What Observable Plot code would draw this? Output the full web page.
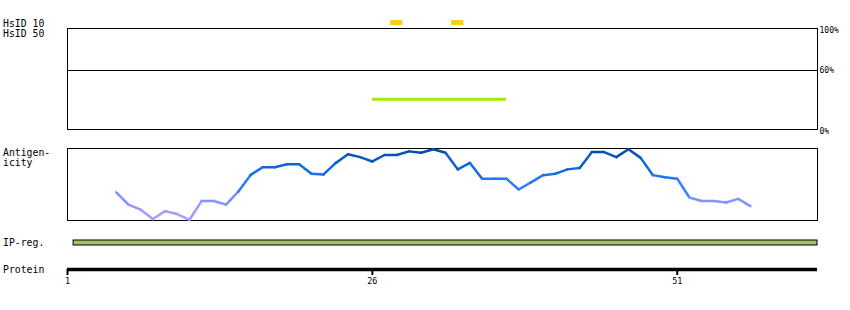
<!DOCTYPE html>
<html><head><meta charset="utf-8">
<script src="https://cdn.jsdelivr.net/npm/d3@7"></script>
<script src="https://cdn.jsdelivr.net/npm/@observablehq/plot@0.6"></script>
<style>
body{margin:0;background:#fff;}
#chart{position:relative;width:850px;height:310px;overflow:hidden;font-family:"DejaVu Sans Mono",monospace;background:#fff;}
#chart svg{position:absolute;left:0;overflow:visible;}
.lbl{position:absolute;left:3px;font-size:9.8px;line-height:10px;white-space:pre;color:#000;}
</style></head><body><div id="chart"></div>
<script>
const proteinLength = 62;
const axisTicks = [1, 26, 51];
const hsid10Positions = [28, 33];
const hsid50Starts = [26];
const hsid50Ends = [37];
const hsid50Identity = [30];
const hsidTicks = [0, 60, 100];
const hsidThreshold = [60];
const antigenPositions = [5,6,7,8,9,10,11,12,13,14,15,16,17,18,19,20,21,22,23,24,25,26,27,28,29,30,31,32,33,34,35,36,37,38,39,40,41,42,43,44,45,46,47,48,49,50,51,52,53,54,55,56,57];
const antigenValues = [0.39,0.22,0.15,0.02,0.13,0.09,0.01,0.27,0.27,0.22,0.40,0.63,0.74,0.74,0.78,0.78,0.65,0.64,0.80,0.92,0.88,0.82,0.91,0.91,0.96,0.94,0.99,0.94,0.71,0.80,0.58,0.58,0.58,0.43,0.53,0.63,0.65,0.71,0.73,0.95,0.95,0.88,0.99,0.87,0.63,0.60,0.58,0.32,0.27,0.27,0.25,0.30,0.20];
const ipStarts = [1.5];
const ipEnds = [62.5];
const labels = [
  {text: "HsID 10", baseline: 27},
  {text: "HsID 50", baseline: 37},
  {text: "Antigen-", baseline: 156},
  {text: "icity", baseline: 166},
  {text: "IP-reg.", baseline: 246},
  {text: "Protein", baseline: 273}
];

const chart = document.getElementById("chart");
const xDomain = [1, proteinLength + 0.5];
const base = {width: 850, marginLeft: 67, marginRight: 33, style: {background: "transparent", color: "#000"}};
function place(svg, top) { svg.style.top = top + "px"; chart.appendChild(svg); }

// HsID 10 row
place(Plot.plot({...base, height: 30, marginTop: 20, marginBottom: 5,
  x: {domain: xDomain, axis: null},
  marks: [Plot.rect(hsid10Positions, {x1: d => d - 0.5, x2: d => d + 0.5, fill: "#ffcc1a"})]
}), 0);

// HsID 50 panel
const hs50 = hsid50Starts.map((s, i) => ({start: s, end: hsid50Ends[i], id: hsid50Identity[i]}));
place(Plot.plot({...base, height: 140, marginTop: 28, marginBottom: 11,
  x: {domain: xDomain, axis: null},
  y: {domain: [0, 100], axis: null},
  marks: [
    Plot.ruleY(hsidThreshold, {stroke: "#000", strokeWidth: 1, dy: 1.6}),
    Plot.ruleY(hs50, {y: "id", x1: "start", x2: "end", stroke: "#9cf000", strokeWidth: 3}),
    Plot.frame({stroke: "#000", strokeWidth: 1}),
    Plot.axisY(hsidTicks, {anchor: "right", label: null, tickSize: 0, tickPadding: 2, dy: 2, fontSize: 8, fontFamily: "DejaVu Sans Mono", tickFormat: d => d + "%"})
  ]
}), 0);

// Antigenicity panel
const segs = antigenPositions.slice(1).map((p, i) => ({
  x1: antigenPositions[i], x2: p, y1: antigenValues[i], y2: antigenValues[i + 1],
  v: (antigenValues[i] + antigenValues[i + 1]) / 2
}));
place(Plot.plot({...base, height: 90, marginTop: 8, marginBottom: 10,
  x: {domain: xDomain, axis: null},
  y: {domain: [0, 1], axis: null},
  color: {type: "linear", domain: [0, 0.3, 0.45, 0.65, 1], range: ["#b4a2fb", "#7e92ff", "#3d80ff", "#1670f0", "#004a9e"]},
  marks: [
    Plot.frame({stroke: "#000", strokeWidth: 1}),
    Plot.link(segs, {x1: "x1", x2: "x2", y1: "y1", y2: "y2", stroke: "v", strokeWidth: 2.5, strokeLinecap: "round"})
  ]
}), 140);

// IP-reg bar
const ip = ipStarts.map((s, i) => ({start: s, end: ipEnds[i]}));
place(Plot.plot({...base, height: 20, marginTop: 10, marginBottom: 5,
  x: {domain: xDomain, axis: null},
  marks: [Plot.rect(ip, {x1: "start", x2: "end", fill: "#a0c46a", stroke: "#000", strokeWidth: 1})]
}), 230);

// Protein axis
place(Plot.plot({...base, height: 45, marginTop: 19, marginBottom: 20,
  x: {domain: xDomain, axis: null},
  y: {domain: [0, 1], axis: null},
  marks: [
    Plot.ruleX(axisTicks, {stroke: "#000", strokeWidth: 2}),
    Plot.ruleY([1], {x1: xDomain[0], x2: xDomain[1], stroke: "#000", strokeWidth: 3.5}),
    Plot.axisX(axisTicks, {anchor: "bottom", label: null, tickSize: 0, tickPadding: 2, fontSize: 8.5, fontFamily: "DejaVu Sans Mono", tickFormat: d => String(d)})
  ]
}), 250);

for (const l of labels) {
  const div = document.createElement("div");
  div.className = "lbl";
  div.textContent = l.text;
  div.style.top = (l.baseline - 8) + "px";
  chart.appendChild(div);
}
</script></body></html>
